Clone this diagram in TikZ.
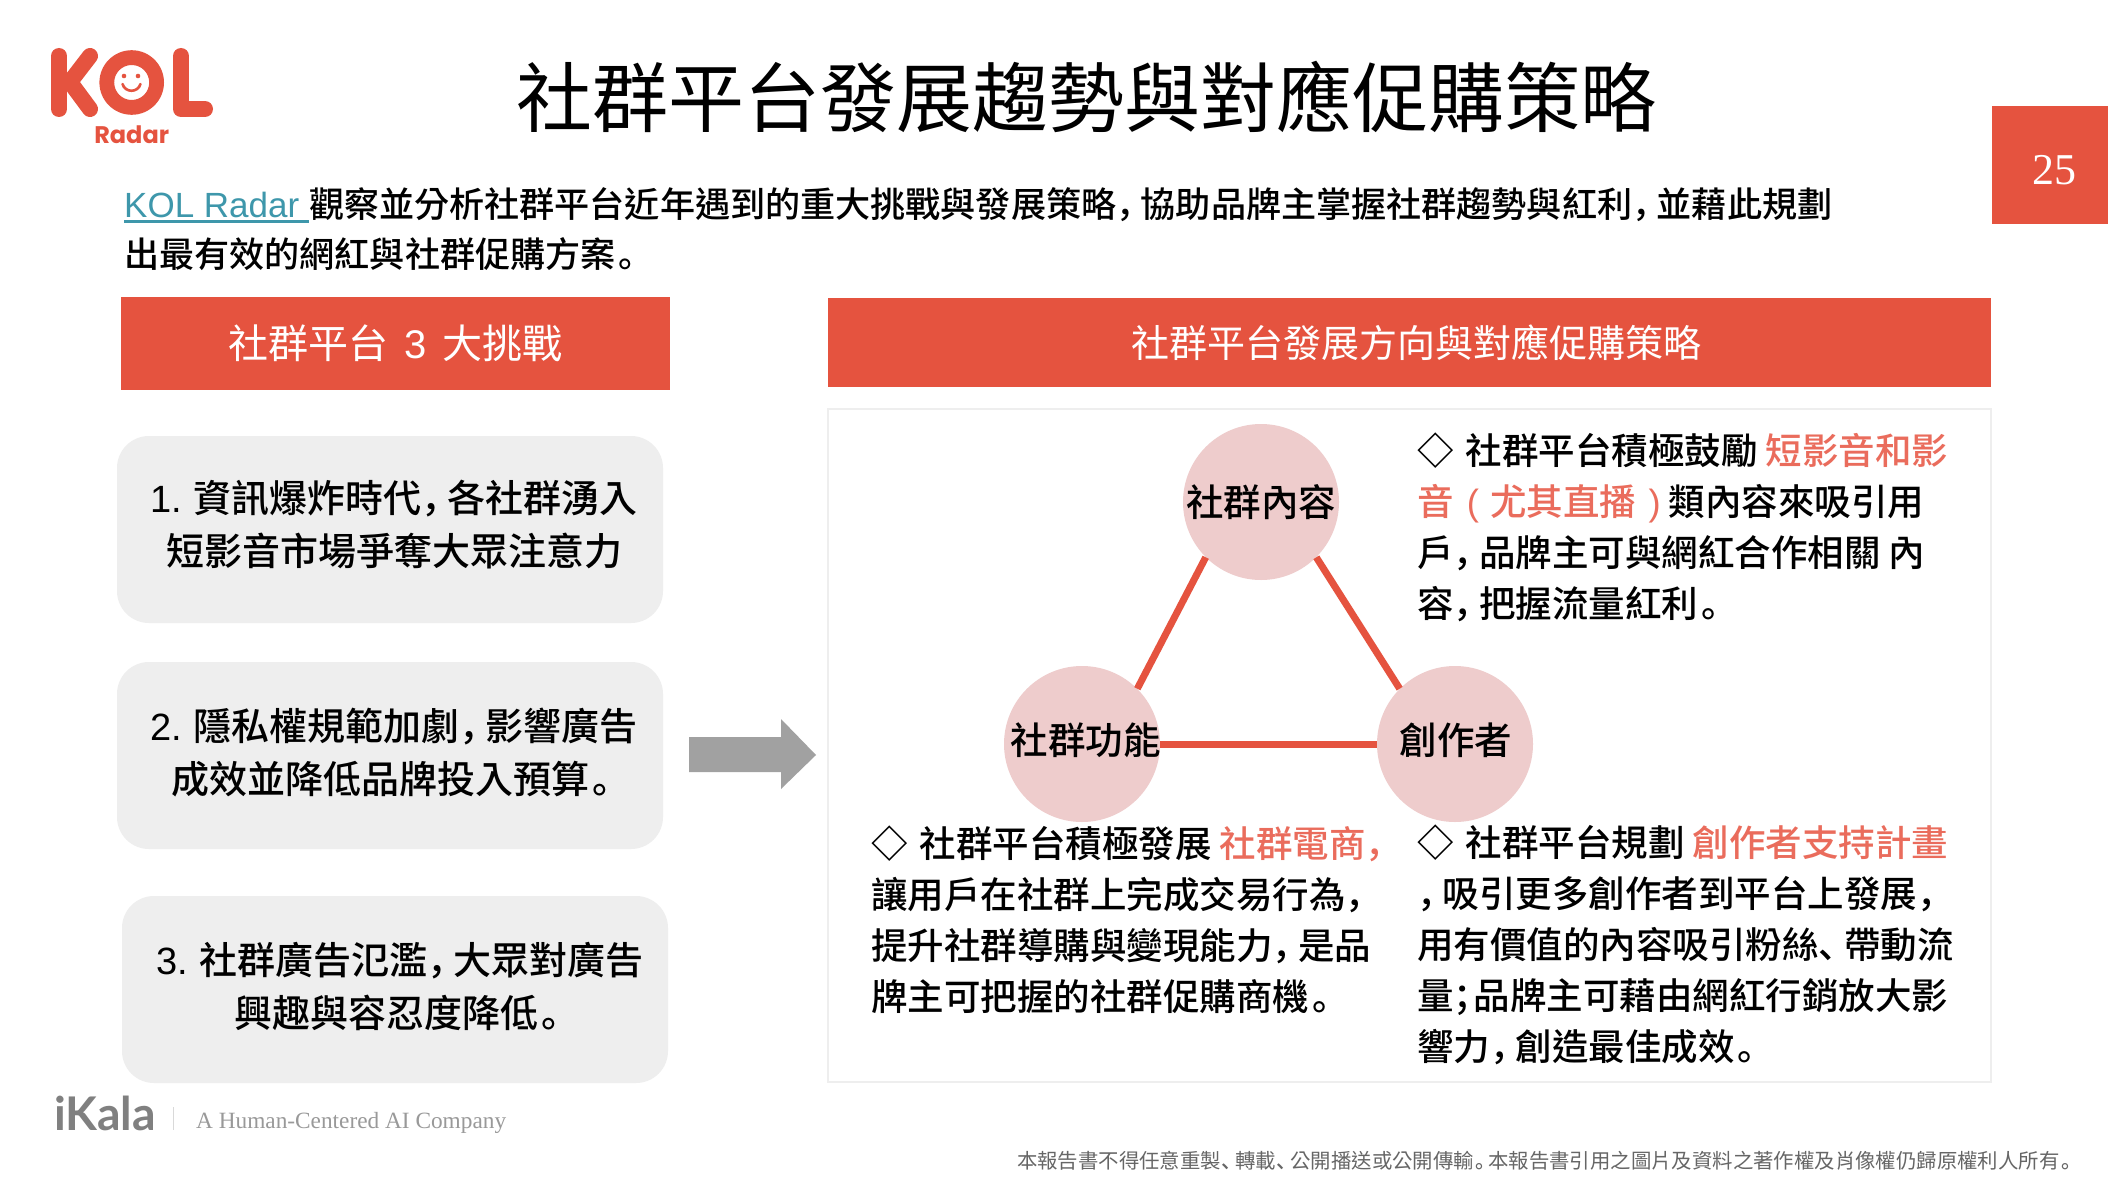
\documentclass[tikz,border=0pt]{standalone}
\usepackage{fontspec}
\usetikzlibrary{shapes.geometric}
\setmainfont{Noto Sans CJK TC Medium}
\newfontfamily\regf{Noto Sans CJK TC}
\newfontfamily\scf{Noto Sans CJK SC Medium}
\newfontfamily\boldf{Noto Sans CJK TC Bold}
\newfontfamily\arialf{Liberation Sans}
\newfontfamily\timesf{Liberation Serif}
\newfontfamily\radarf{Poppins}[BoldFont={Poppins Bold}]
\newfontfamily\latof{Lato}
\definecolor{krred}{HTML}{E5533F}
\definecolor{krsoft}{HTML}{EA6C5C}
\definecolor{krgrey}{HTML}{EEEEEE}
\definecolor{krpink}{HTML}{EECCCC}
\definecolor{krteal}{HTML}{3E97AB}
\newcommand{\pc}{{\scf ，}\kern-.3em\relax}
\newcommand{\pp}{\kern.08em{\scf 。}\kern-.38em\relax}
\newcommand{\ps}{{\scf ；}\kern-.45em\relax}
\newcommand{\pd}{{\scf 、}\kern-.3em\relax}
\newcommand{\dia}{{\boldf ◇}\kern12pt\relax}
\newcommand{\hl}[1]{\textcolor{krsoft}{#1}}
\newcommand{\fs}[2]{\fontsize{#1}{#2}\selectfont}
\newcommand{\ulk}[1]{\vtop{\hbox{#1}\kern1.5pt\hrule height 2.8pt}}
\newcommand{\boxlines}[3]{\hspace*{#2}\smash{\raisebox{#1}{\parbox[c]{525pt}{\centering #3}}}}
\tikzset{
 x=1pt,y=-1pt,
 headbox/.style={fill=krred,draw=none,text=white,inner sep=0pt},
 softbox/.style={fill=krgrey,draw=none,rounded corners=32pt,inner sep=0pt,text=black,font=\fs{38}{53},minimum width=546pt,minimum height=187pt},
 disc/.style={circle,fill=krpink,draw=none,minimum size=156pt,inner sep=0pt,font=\fs{37.5}{37.5}},
 para/.style={anchor=west,align=left,inner sep=0pt,font=\fs{36.5}{51}},
 link/.style={krred,line width=7pt},
}
\begin{document}
\begin{tikzpicture}
\useasboundingbox (0,0) rectangle (2108,1180);
\fill[white] (0,0) rectangle (2108,1180);
% logo
\begin{scope}[krred,line cap=round,line join=round]
\draw[line width=16pt] (59,56) -- (59,109);
\draw[line width=16pt] (90,56) -- (70,82) -- (90,109);
\draw[line width=16pt] (181,56) -- (181,109) -- (205,109);
\fill[even odd rule] (131.7,82.5) circle (32.3) (131.7,82.5) circle (17.5);
\fill (124,76) circle (2.3) (138,76) circle (2.3);
\draw[line width=2.6pt] (122.5,84) .. controls (125,93) and (138,93) .. (140.5,84);
\end{scope}
\node[text=krred,inner sep=0pt] (radar) at (131.7,135) {\radarf\bfseries\fs{24}{24}Radar};
% title
\node[inner sep=0pt] (title) at (1086,97) {\regf\fs{76}{76}社群平台發展趨勢與對應促購策略};
% page number
\node[fill=krred,minimum width=116pt,minimum height=118pt,inner sep=0pt,text=white] (page) at (2050,165) {\hspace*{8pt}\smash{\raisebox{-19pt}{\timesf\fs{44}{44}25}}};
% intro
\node[anchor=west,align=left,inner sep=0pt,font=\fs{35.1}{50}] (intro) at (124,229.5)
 {\textcolor{krteal}{\ulk{\arialf\fs{35}{50}KOL Radar\ }}觀察並分析社群平台近年遇到的重大挑戰與發展策略\pc 協助品牌主掌握社群趨勢與紅利\pc 並藉此規劃\\
 出最有效的網紅與社群促購方案\pp};
% headers
\node[headbox,minimum width=549pt,minimum height=93pt] (lefthead) at (395.5,343.5) {\regf\fs{40}{40}社群平台\hspace{7pt} {\arialf 3} \hspace{7pt}大挑戰};
\node[headbox,minimum width=1163pt,minimum height=89pt] (righthead) at (1409.5,342.5) {\hspace*{13pt}\regf\fs{38}{38}社群平台發展方向與對應促購策略};
% frame
\draw[krgrey,line width=2.5pt] (828,409) rectangle (1991,1082);
% left boxes
\node[softbox] (c1) at (390,529.5) {\boxlines{-1.4pt}{8pt}{{\arialf 1.} 資訊爆炸時代\pc 各社群湧入\\短影音市場爭奪大眾注意力}};
\node[softbox] (c2) at (390,755.5) {\boxlines{-3.2pt}{8pt}{{\arialf 2.} 隱私權規範加劇\pc 影響廣告\\成效並降低品牌投入預算\pp}};
\node[softbox] (c3) at (395,989.5) {\boxlines{-3.2pt}{10pt}{{\arialf 3.} 社群廣告氾濫\pc 大眾對廣告\\興趣與容忍度降低\pp}};
% arrow
\fill[fill=black!37] (689,737) -- (781,737) -- (781,719) -- (816,755) -- (781,789) -- (781,772) -- (689,772) -- cycle;
% discs
\node[disc] (content) at (1261,502) {\makebox[0pt][c]{社群內容}};
\node[disc] (feature) at (1082,744) {\smash{\raisebox{-10pt}{\makebox[0pt][c]{\hspace*{7pt}社群功能}}}};
\node[disc] (creator) at (1455,744) {\smash{\raisebox{-10pt}{\makebox[0pt][c]{\hspace*{2pt}創作者}}}};
\draw[link] (content.-135) -- (feature.45);
\draw[link] (content.-45) -- (creator.135);
\draw[link] (feature.east) -- (creator.west);
% paragraphs
\node[para] (pa) at (1417,527) {\dia 社群平台積極鼓勵 \hl{短影音和影}\\\hl{音\hspace{5pt} {\arialf (} \hspace{3pt}尤其直播\hspace{4pt} {\arialf )} }類內容來吸引用\\戶\pc 品牌主可與網紅合作相關 內\\容\pc 把握流量紅利\pp};
\node[para] (pb) at (871,920) {\dia 社群平台積極發展 \hl{社群電商{\scf ，}}\\讓用戶在社群上完成交易行為\pc\\提升社群導購與變現能力\pc 是品\\牌主可把握的社群促購商機\pp};
\node[para] (pc) at (1417,945) {\dia 社群平台規劃 \hl{創作者支持計畫}\\{\scf ，}\kern-.3em 吸引更多創作者到平台上發展\pc\\用有價值的內容吸引粉絲\pd 帶動流\\量\ps 品牌主可藉由網紅行銷放大影\\響力\pc 創造最佳成效\pp};
% footer
\node[inner sep=0pt,text=black!50,scale=.8,transform shape,anchor=west] (ikala) at (54,1113) {\latof\bfseries\fs{58}{58}iKala};
\coordinate (sepa) at (173,1107);
\coordinate (sepb) at (173,1130);
\draw[black!15,line width=1pt] (sepa) -- (sepb);
\node[inner sep=0pt,text=black!40,anchor=west] (slogan) at (196,1122.5) {\timesf\fs{23.3}{23.3}A Human-Centered AI Company};
\node[inner sep=0pt,text=black!60,anchor=east] (legal) at (2074,1161) {\regf\fs{20.4}{20.4}本報告書不得任意重製\pd 轉載\pd 公開播送或公開傳輸\pp 本報告書引用之圖片及資料之著作權及肖像權仍歸原權利人所有\pp};
\end{tikzpicture}
\end{document}
